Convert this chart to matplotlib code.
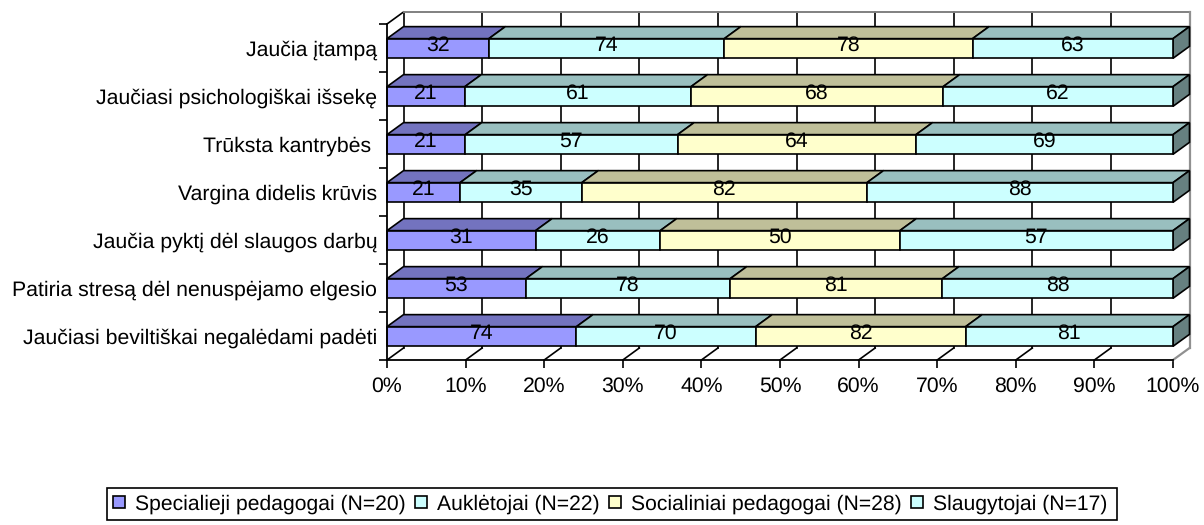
import numpy as np
import matplotlib
matplotlib.use('Agg')
import matplotlib.pyplot as plt
from matplotlib.patches import Patch, Polygon, Rectangle

plt.rcParams['font.family'] = ['Liberation Sans', 'DejaVu Sans']
plt.rcParams['text.hinting'] = 'no_hinting'

categories = ['Jaučia įtampą', 'Jaučiasi psichologiškai išsekę', 'Trūksta kantrybės ',
              'Vargina didelis krūvis', 'Jaučia pyktį dėl slaugos darbų',
              'Patiria stresą dėl nenuspėjamo elgesio', 'Jaučiasi beviltiškai negalėdami padėti']
spec_ped = [32, 21, 21, 21, 31, 53, 74]
aukletojai = [74, 61, 57, 35, 26, 78, 70]
soc_ped = [78, 68, 64, 82, 50, 81, 82]
slaugytojai = [63, 62, 69, 88, 57, 88, 81]
series = [spec_ped, aukletojai, soc_ped, slaugytojai]
series_names = ['Specialieji pedagogai (N=20)', 'Auklėtojai (N=22)',
                'Socialiniai pedagogai (N=28)', 'Slaugytojai (N=17)']
front_colors = ['#9999FF', '#CCFFFF', '#FFFFCC', '#CCFFFF']
top_colors = ['#7373BF', '#99BFBF', '#BFBF99', '#99BFBF']
side_color = '#668080'
ticks = np.arange(0, 101, 10)

W, H = 1204, 525
DX, DY = 2.1, 0.25   # depth of the fake 3D, data units
BAR_H = 0.41
FS = 15.3

fig = plt.figure(figsize=(W / 100, H / 100), dpi=100)
ax = fig.add_axes([387 / W, 1 - 360 / H, 786 / W, 336 / H])
ax.set_xlim(0, 100)
ax.set_ylim(7, 0)
for s in ['top', 'right']:
    ax.spines[s].set_visible(False)
for s in ['left', 'bottom']:
    ax.spines[s].set_linewidth(1.3)
    ax.spines[s].set_zorder(20)

# back wall and floor
for t in ticks:
    ax.plot([t + DX, t + DX], [-DY, 7 - DY], color='black', lw=1.2, zorder=1, clip_on=False)
    if t < 100:
        ax.plot([t, t + DX], [7, 7 - DY], color='black', lw=1.2, zorder=1, clip_on=False)
ax.plot([DX, 100 + DX], [-DY, -DY], color='#808080', lw=1.4, zorder=1.5, clip_on=False)
ax.plot([0, DX], [0, -DY], color='black', lw=1.2, zorder=1, clip_on=False)
ax.plot([100 + DX, 100 + DX], [-DY, 7 - DY], color='#909090', lw=1.6, zorder=2, clip_on=False)
ax.plot([100, 100 + DX], [7, 7 - DY], color='#909090', lw=1.6, zorder=2, clip_on=False)

# stacked bars, top row first so that lower rows sit in front
data = np.array(series, dtype=float)
pct = data / data.sum(axis=0) * 100
left = np.cumsum(np.vstack([np.zeros(7), pct[:-1]]), axis=0)
y_pos = np.arange(7) + 0.51

for i, y in enumerate(y_pos):
    z = 3 + i
    yt = y - BAR_H / 2
    yb = y + BAR_H / 2
    for k in range(4):
        x0, x1 = left[k, i], left[k, i] + pct[k, i]
        ax.add_patch(Polygon([(x0, yt), (x1, yt), (x1 + DX, yt - DY), (x0 + DX, yt - DY)],
                             closed=True, fc=top_colors[k], ec='black', lw=1.2, zorder=z,
                             clip_on=False))
        ax.barh(y, pct[k, i], BAR_H, left=x0, color=front_colors[k], edgecolor='black',
                linewidth=1.2, zorder=z + 0.1, clip_on=False)
        ax.text((x0 + x1) / 2, y - 0.06, str(int(data[k, i])), ha='center', va='center',
                fontsize=FS, color='black', zorder=z + 0.2)
    ax.add_patch(Polygon([(100, yt), (100 + DX, yt - DY), (100 + DX, yb - DY), (100, yb)],
                         closed=True, fc=side_color, ec='black', lw=1.2, zorder=z,
                         clip_on=False))

ax.set_xticks(ticks)
ax.set_xticklabels([f'{t}%' for t in ticks], fontsize=FS)
ax.tick_params(axis='x', length=6, width=1.2, pad=6)
ax.set_yticks(np.arange(8))
ax.set_yticklabels([])
ax.tick_params(axis='y', which='major', length=6, width=1.2)
ax.set_yticks(np.arange(7) + 0.5, minor=True)
ax.set_yticklabels(categories, minor=True, fontsize=FS)
ax.tick_params(axis='y', which='minor', length=0, pad=7)

# legend box is drawn apart, it is wider and flatter than the entries need
fig.add_artist(Rectangle((107 / W, 1 - 520 / H), 1010 / W, 32 / H, transform=fig.transFigure,
                         fc='white', ec='black', lw=1.2))
handles = [Patch(fc=c, ec='black', lw=1.2) for c in front_colors]
fig.legend(handles, series_names, loc='center', bbox_to_anchor=(610 / W, 1 - 504 / H),
           ncol=4, fontsize=15.2, frameon=False, handlelength=0.56, handleheight=0.56,
           handletextpad=0.47, columnspacing=0.45, borderpad=0, borderaxespad=0)

plt.savefig('out.png', dpi=100)
plt.close()
